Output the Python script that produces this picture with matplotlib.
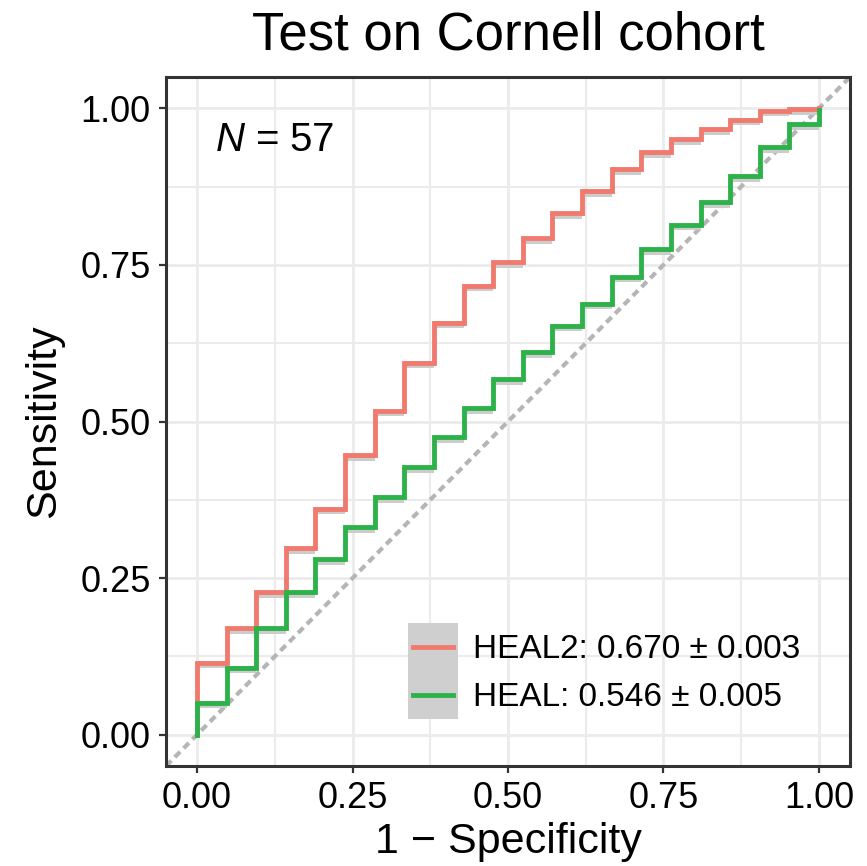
import matplotlib
matplotlib.use('Agg')
import matplotlib.pyplot as plt
from matplotlib.legend_handler import HandlerLine2D
from matplotlib.patches import Rectangle
from matplotlib.lines import Line2D

plt.rcParams['font.family'] = ['Liberation Sans', 'DejaVu Sans']
plt.rcParams['mathtext.fontset'] = 'custom'
plt.rcParams['mathtext.it'] = 'Liberation Sans:italic'
plt.rcParams['mathtext.rm'] = 'Liberation Sans'

# ---- data ----
fpr = [0.0, 0.0, 0.048, 0.095, 0.143, 0.190, 0.238, 0.286, 0.333, 0.381, 0.429,
       0.476, 0.524, 0.571, 0.619, 0.667, 0.714, 0.762, 0.810, 0.857, 0.905,
       0.952, 1.0]
tpr_heal2 = [0.0, 0.115, 0.170, 0.228, 0.298, 0.361, 0.446, 0.517, 0.594, 0.658,
             0.717, 0.754, 0.793, 0.833, 0.868, 0.903, 0.930, 0.951, 0.967, 0.982,
             0.996, 0.999, 1.0]
tpr_heal = [0.0, 0.051, 0.107, 0.170, 0.228, 0.280, 0.331, 0.379, 0.427, 0.475,
            0.521, 0.568, 0.611, 0.653, 0.688, 0.731, 0.775, 0.814, 0.850, 0.892,
            0.938, 0.975, 0.998]
labels = ['HEAL2: 0.670 \u00b1 0.003', 'HEAL: 0.546 \u00b1 0.005']
colors = ['#F07A6E', '#2DB24A']
x_ticks = [0.0, 0.25, 0.5, 0.75, 1.0]
tick_labels = ['0.00', '0.25', '0.50', '0.75', '1.00']
minor_ticks = [0.125, 0.375, 0.625, 0.875]
n_samples = 57

fig = plt.figure(figsize=(8.67, 8.66), dpi=100)
ax = fig.add_axes([166 / 867, 100 / 866, 684 / 867, 689 / 866])
ax.set_facecolor('white')
ax.set_xlim(-0.05, 1.05)
ax.set_ylim(-0.05, 1.05)

ax.set_xticks(x_ticks)
ax.set_xticklabels(tick_labels)
ax.set_yticks(x_ticks)
ax.set_yticklabels(tick_labels)
ax.set_xticks(minor_ticks, minor=True)
ax.set_yticks(minor_ticks, minor=True)
ax.grid(which='major', color='#ebebeb', lw=2.0, zorder=0)
ax.grid(which='minor', color='#ebebeb', lw=1.5, zorder=0)
ax.set_axisbelow(True)
ax.tick_params(which='minor', length=0)
ax.tick_params(which='major', length=5, width=1.6, color='#333333',
               labelsize=26, labelcolor='black', pad=6)
for s in ax.spines.values():
    s.set_color('#333333')
    s.set_linewidth(2.2)

# diagonal reference
ax.plot([-0.05, 1.05], [-0.05, 1.05], color='#b5b5b5', lw=3.0,
        ls=(0, (1.8, 1.2)), zorder=1)

handles = []
for tpr, col in zip([tpr_heal2, tpr_heal], colors):
    lo = [v - 0.009 for v in tpr]
    hi = [v + 0.002 for v in tpr]
    ax.fill_between(fpr, lo, hi, step='post', color='#cccccc', lw=0, zorder=2)
    ln, = ax.plot(fpr, tpr, drawstyle='steps-post', color=col, lw=3.5,
                  zorder=3, solid_joinstyle='miter')
    handles.append(ln)


class HandlerKey(HandlerLine2D):
    def create_artists(self, legend, orig_handle, xdescent, ydescent, width,
                       height, fontsize, trans):
        rect = Rectangle((-xdescent, -ydescent), width, height,
                         facecolor='#d0cfcf', edgecolor='none', transform=trans)
        y = height / 2 - ydescent
        line = Line2D([-xdescent + width * 0.1, -xdescent + width * 0.9], [y, y],
                      color=orig_handle.get_color(), lw=orig_handle.get_linewidth(),
                      transform=trans)
        return [rect, line]


leg = ax.legend(handles, labels, loc='upper left',
                bbox_to_anchor=((408 - 166) / 684, (766 - 623) / 689),
                frameon=False, fontsize=24, borderpad=0, borderaxespad=0,
                handlelength=1.5, handleheight=1.84, labelspacing=0,
                handletextpad=0.45,
                handler_map={Line2D: HandlerKey()})

ax.text((215 - 166) / 684, (766 - 151) / 689, r'$N$ = %d' % n_samples,
        transform=ax.transAxes, fontsize=29, ha='left', va='baseline')

ax.set_title('Test on Cornell cohort', fontsize=38, pad=20)
ax.set_xlabel('1 \u2212 Specificity', fontsize=31, labelpad=4)
ax.set_ylabel('Sensitivity', fontsize=31, labelpad=12)

fig.savefig('out.png', dpi=100, facecolor='white')
